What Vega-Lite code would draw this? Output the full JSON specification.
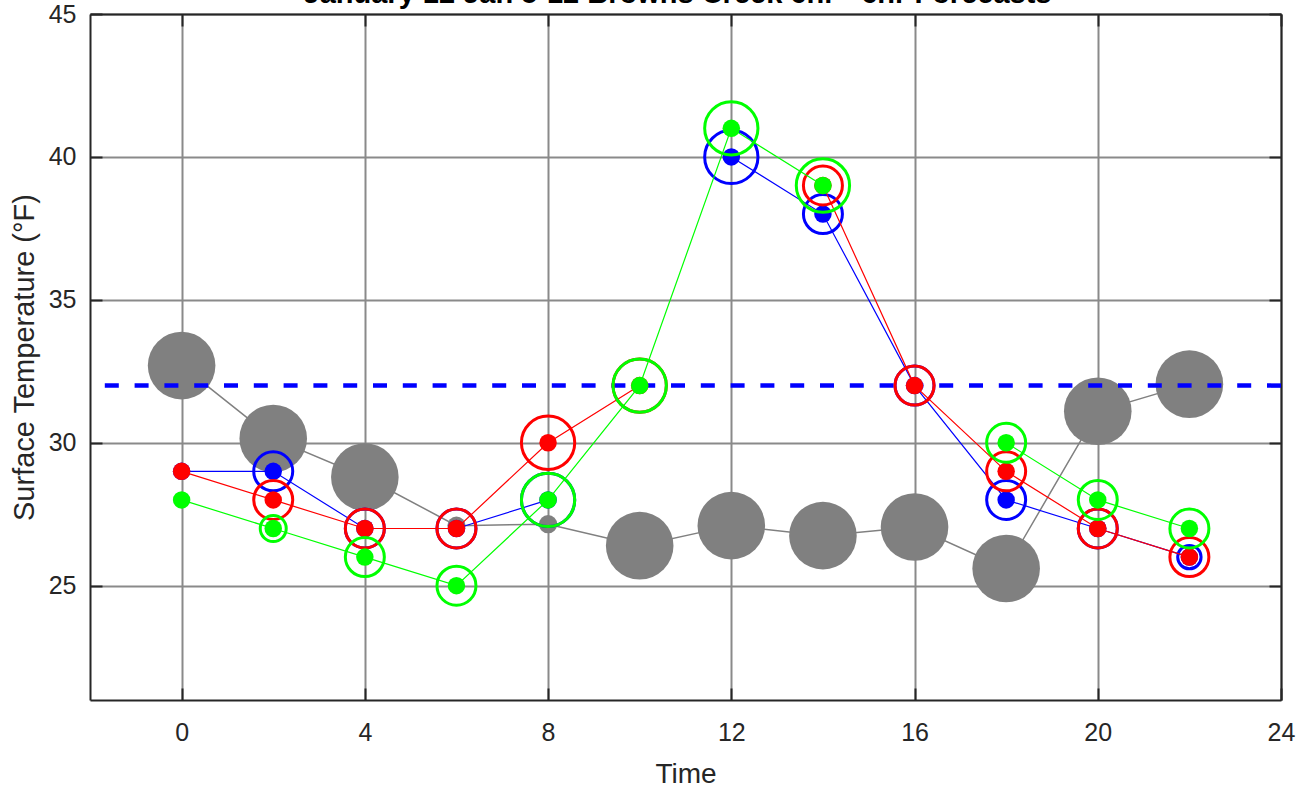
{
  "$schema": "https://vega.github.io/schema/vega-lite/v6.json",
  "width": 1191,
  "height": 686,
  "autosize": {"type": "none"},
  "padding": {"left": 90, "top": 14, "right": 16, "bottom": 87},
  "background": "white",
  "config": {"view": {"stroke": null}, "font": "Liberation Sans"},
  "title": {
    "text": "January 12 Jan 5-12 Browns Creek 6hr - 6hr Forecasts",
    "font": "Liberation Sans",
    "fontSize": 29,
    "fontWeight": "bold",
    "color": "#000000",
    "anchor": "middle",
    "frame": "group",
    "dx": -8,
    "baseline": "alphabetic",
    "offset": 0,
    "dy": 30
  },
  "datasets": {
    "temps": [
      {"time": 0, "series": "Observed", "temp": 32.7, "weight": 5.2},
      {"time": 2, "series": "Observed", "temp": 30.15, "weight": 5.2},
      {"time": 4, "series": "Observed", "temp": 28.8, "weight": 5.2},
      {"time": 6, "series": "Observed", "temp": 27.1, "weight": 1.4},
      {"time": 8, "series": "Observed", "temp": 27.15, "weight": 1.4},
      {"time": 10, "series": "Observed", "temp": 26.4, "weight": 5.2},
      {"time": 12, "series": "Observed", "temp": 27.1, "weight": 5.2},
      {"time": 14, "series": "Observed", "temp": 26.75, "weight": 5.2},
      {"time": 16, "series": "Observed", "temp": 27.05, "weight": 5.2},
      {"time": 18, "series": "Observed", "temp": 25.6, "weight": 5.2},
      {"time": 20, "series": "Observed", "temp": 31.1, "weight": 5.2},
      {"time": 22, "series": "Observed", "temp": 32.05, "weight": 5.2},

      {"time": 0, "series": "Forecast A", "temp": 29, "weight": null},
      {"time": 2, "series": "Forecast A", "temp": 29, "weight": 3},
      {"time": 4, "series": "Forecast A", "temp": 27, "weight": 3},
      {"time": 6, "series": "Forecast A", "temp": 27, "weight": 3},
      {"time": 8, "series": "Forecast A", "temp": 28, "weight": 4.1},
      {"time": 10, "series": "Forecast A", "temp": null, "weight": null},
      {"time": 12, "series": "Forecast A", "temp": 40, "weight": 4.1},
      {"time": 14, "series": "Forecast A", "temp": 38, "weight": 3},
      {"time": 16, "series": "Forecast A", "temp": 32, "weight": 3},
      {"time": 18, "series": "Forecast A", "temp": 28, "weight": 3},
      {"time": 20, "series": "Forecast A", "temp": 27, "weight": 3},
      {"time": 22, "series": "Forecast A", "temp": 26, "weight": 1.8},

      {"time": 0, "series": "Forecast B", "temp": 29, "weight": null},
      {"time": 2, "series": "Forecast B", "temp": 28, "weight": 3},
      {"time": 4, "series": "Forecast B", "temp": 27, "weight": 3},
      {"time": 6, "series": "Forecast B", "temp": 27, "weight": 3},
      {"time": 8, "series": "Forecast B", "temp": 30, "weight": 4.1},
      {"time": 10, "series": "Forecast B", "temp": 32, "weight": 4.1},
      {"time": 12, "series": "Forecast B", "temp": null, "weight": null},
      {"time": 14, "series": "Forecast B", "temp": 39, "weight": 3},
      {"time": 16, "series": "Forecast B", "temp": 32, "weight": 3},
      {"time": 18, "series": "Forecast B", "temp": 29, "weight": 3},
      {"time": 20, "series": "Forecast B", "temp": 27, "weight": 3},
      {"time": 22, "series": "Forecast B", "temp": 26, "weight": 3},

      {"time": 0, "series": "Forecast C", "temp": 28, "weight": null},
      {"time": 2, "series": "Forecast C", "temp": 27, "weight": 2},
      {"time": 4, "series": "Forecast C", "temp": 26, "weight": 3},
      {"time": 6, "series": "Forecast C", "temp": 25, "weight": 3},
      {"time": 8, "series": "Forecast C", "temp": 28, "weight": 4.1},
      {"time": 10, "series": "Forecast C", "temp": 32, "weight": 4.1},
      {"time": 12, "series": "Forecast C", "temp": 41, "weight": 4.1},
      {"time": 14, "series": "Forecast C", "temp": 39, "weight": 4.1},
      {"time": 16, "series": "Forecast C", "temp": null, "weight": null},
      {"time": 18, "series": "Forecast C", "temp": 30, "weight": 3},
      {"time": 20, "series": "Forecast C", "temp": 28, "weight": 3},
      {"time": 22, "series": "Forecast C", "temp": 27, "weight": 3}
    ],
    "ref": [{"threshold": 32}]
  },
  "resolve": {"axis": {"x": "independent", "y": "independent"}},
  "layer": [
    {
      "data": {"name": "temps"},
      "transform": [{"filter": "datum.series === 'Observed'"}],
      "mark": {"type": "line", "color": "#808080", "strokeWidth": 1.5},
      "encoding": {
        "x": {
          "field": "time", "type": "quantitative",
          "scale": {"domain": [-2, 24], "nice": false, "zero": false},
          "axis": {
            "orient": "bottom", "values": [0, 4, 8, 12, 16, 20, 24],
            "grid": true, "gridColor": "#8a8a8a", "gridWidth": 2, "gridOpacity": 1,
            "domain": true, "domainColor": "#262626", "domainWidth": 2,
            "ticks": true, "tickSize": -12, "tickColor": "#262626", "tickWidth": 2,
            "labelFontSize": 25, "labelColor": "#262626", "labelPadding": 32,
            "labelFlush": false, "labelOverlap": false, "labelFont": "Liberation Sans",
            "title": "Time", "titleFontSize": 28, "titleFontWeight": "normal",
            "titleColor": "#262626", "titlePadding": 15, "titleFont": "Liberation Sans"
          }
        },
        "y": {
          "field": "temp", "type": "quantitative",
          "scale": {"domain": [21, 45], "nice": false, "zero": false},
          "axis": {
            "orient": "left", "values": [25, 30, 35, 40, 45],
            "grid": true, "gridColor": "#8a8a8a", "gridWidth": 2, "gridOpacity": 1,
            "domain": true, "domainColor": "#262626", "domainWidth": 2,
            "ticks": true, "tickSize": -12, "tickColor": "#262626", "tickWidth": 2,
            "labelFontSize": 25, "labelColor": "#262626", "labelPadding": 26,
            "labelFlush": false, "labelOverlap": false, "labelFont": "Liberation Sans",
            "title": "Surface Temperature (°F)", "titleFontSize": 29, "titleFontWeight": "normal",
            "titleColor": "#262626", "titlePadding": 9, "titleFont": "Liberation Sans"
          }
        }
      }
    },
    {
      "data": {"name": "temps"},
      "transform": [{"filter": "datum.series === 'Observed'"}],
      "mark": {"type": "point", "filled": true, "color": "#808080", "opacity": 1, "strokeWidth": 0},
      "encoding": {
        "x": {
          "field": "time", "type": "quantitative",
          "scale": {"domain": [-2, 24], "nice": false, "zero": false},
          "axis": {
            "orient": "top", "values": [0, 4, 8, 12, 16, 20, 24], "labels": false, "grid": false,
            "domain": true, "domainColor": "#262626", "domainWidth": 2,
            "ticks": true, "tickSize": -12, "tickColor": "#262626", "tickWidth": 2,
            "title": null
          }
        },
        "y": {
          "field": "temp", "type": "quantitative",
          "scale": {"domain": [21, 45], "nice": false, "zero": false},
          "axis": {
            "orient": "right", "values": [25, 30, 35, 40, 45], "labels": false, "grid": false,
            "domain": true, "domainColor": "#262626", "domainWidth": 2,
            "ticks": true, "tickSize": -12, "tickColor": "#262626", "tickWidth": 2,
            "title": null
          }
        },
        "size": {
          "field": "weight", "type": "quantitative",
          "scale": {"type": "pow", "exponent": 2, "domain": [0, 4], "range": [0, 2704]},
          "legend": null
        }
      }
    },
    {
      "data": {"name": "ref"},
      "mark": {"type": "rule", "color": "#0000ff", "strokeWidth": 4.5, "strokeDash": [14, 15.8]},
      "encoding": {
        "y": {"field": "threshold", "type": "quantitative", "axis": null}
      }
    },
    {
      "data": {"name": "temps"},
      "transform": [{"filter": "datum.series === 'Forecast A'"}],
      "encoding": {
        "x": {"field": "time", "type": "quantitative", "axis": null},
        "y": {"field": "temp", "type": "quantitative", "axis": null}
      },
      "layer": [
        {"mark": {"type": "line", "color": "#0000ff", "strokeWidth": 1.2, "invalid": "break-paths-show-domains"}},
        {"mark": {"type": "point", "filled": true, "color": "#0000ff", "opacity": 1, "size": 306, "strokeWidth": 0}},
        {
          "transform": [{"filter": "datum.weight != null"}],
          "mark": {"type": "point", "filled": false, "color": "#0000ff", "opacity": 1, "strokeWidth": 3},
          "encoding": {
            "size": {
              "field": "weight", "type": "quantitative",
              "scale": {"type": "pow", "exponent": 2, "domain": [0, 4], "range": [0, 2704]},
              "legend": null
            }
          }
        }
      ]
    },
    {
      "data": {"name": "temps"},
      "transform": [{"filter": "datum.series === 'Forecast B'"}],
      "encoding": {
        "x": {"field": "time", "type": "quantitative", "axis": null},
        "y": {"field": "temp", "type": "quantitative", "axis": null}
      },
      "layer": [
        {"mark": {"type": "line", "color": "#ff0000", "strokeWidth": 1.2, "invalid": "break-paths-show-domains"}},
        {"mark": {"type": "point", "filled": true, "color": "#ff0000", "opacity": 1, "size": 306, "strokeWidth": 0}},
        {
          "transform": [{"filter": "datum.weight != null"}],
          "mark": {"type": "point", "filled": false, "color": "#ff0000", "opacity": 1, "strokeWidth": 3},
          "encoding": {
            "size": {
              "field": "weight", "type": "quantitative",
              "scale": {"type": "pow", "exponent": 2, "domain": [0, 4], "range": [0, 2704]},
              "legend": null
            }
          }
        }
      ]
    },
    {
      "data": {"name": "temps"},
      "transform": [{"filter": "datum.series === 'Forecast C'"}],
      "encoding": {
        "x": {"field": "time", "type": "quantitative", "axis": null},
        "y": {"field": "temp", "type": "quantitative", "axis": null}
      },
      "layer": [
        {"mark": {"type": "line", "color": "#00ff00", "strokeWidth": 1.2, "invalid": "break-paths-show-domains"}},
        {"mark": {"type": "point", "filled": true, "color": "#00ff00", "opacity": 1, "size": 306, "strokeWidth": 0}},
        {
          "transform": [{"filter": "datum.weight != null"}],
          "mark": {"type": "point", "filled": false, "color": "#00ff00", "opacity": 1, "strokeWidth": 3},
          "encoding": {
            "size": {
              "field": "weight", "type": "quantitative",
              "scale": {"type": "pow", "exponent": 2, "domain": [0, 4], "range": [0, 2704]},
              "legend": null
            }
          }
        }
      ]
    }
  ]
}
